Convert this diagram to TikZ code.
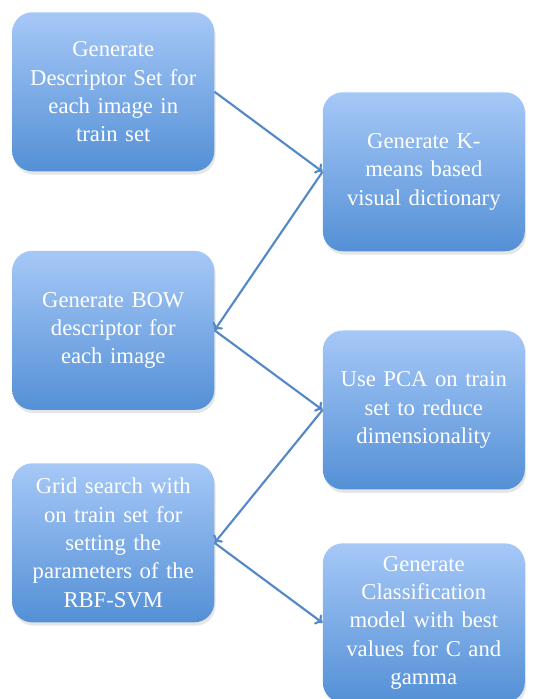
\documentclass[tikz,border=0pt]{standalone}
\usepackage{fontspec}
\setmainfont{Liberation Serif}
\usepackage{tikz}
\usetikzlibrary{positioning,shadows}
\usetikzlibrary{arrows.meta}
\definecolor{boxtop}{RGB}{166,200,247}
\definecolor{boxbottom}{RGB}{84,144,214}
\definecolor{edgeblue}{RGB}{84,136,198}
\tikzstyle{block} = [rectangle, rounded corners=15pt, top color=boxtop, bottom color=boxbottom,
    text=white, text width=145pt, align=center, minimum width=151.5pt, minimum height=119.25pt,
    inner sep=0pt, font=\fontsize{17}{21.2}\selectfont,
    drop shadow={opacity=0.2, shadow xshift=1pt, shadow yshift=-2.5pt}]
\tikzstyle{line} = [draw=edgeblue, line width=1.6pt, -{To[length=5pt,width=9pt]}]

\begin{document}
\begin{tikzpicture}
    \useasboundingbox (0,0) rectangle (399pt,-524.25pt);
    % Place nodes
    \node [block, anchor=north west] (desc) at (9pt,-9pt) {Generate\\Descriptor Set for\\each image in\\train set};
    \node [block, below right=60pt and 81pt of desc.north east] (kmeans) {Generate K-\\means based\\visual dictionary};
    \node [block, below=59.25pt of desc] (bow) {Generate BOW\\descriptor for\\each image};
    \node [block, below=59pt of kmeans] (pca) {Use PCA on train\\set to reduce\\dimensionality};
    \node [block, below=39.75pt of bow] (grid) {Grid search with\\on train set for\\setting the\\parameters of the\\RBF-SVM};
    \node [block, below=40pt of pca] (model) {Generate\\Classification\\model with best\\values for C and\\gamma};
    % Draw edges
    \path [line] (desc.east) -- (kmeans.west);
    \path [line] (kmeans.west) -- (bow.east);
    \path [line] (bow.east) -- (pca.west);
    \path [line] (pca.west) -- (grid.east);
    \path [line] (grid.east) -- (model.west);
\end{tikzpicture}
\end{document}
